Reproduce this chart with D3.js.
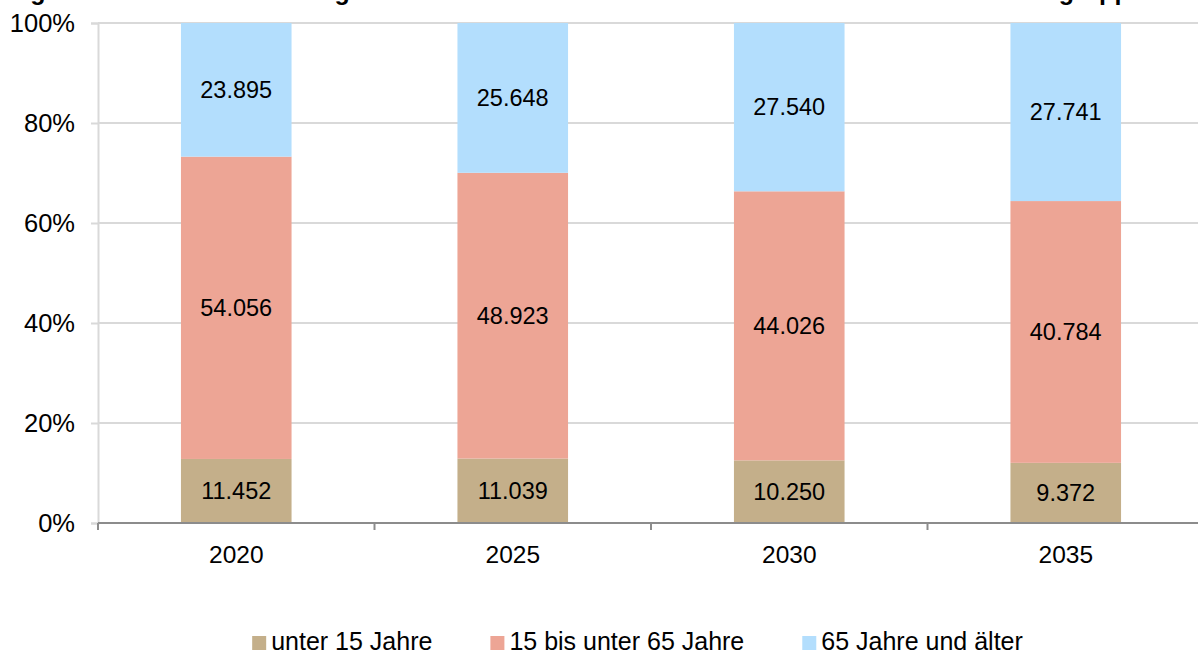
<!DOCTYPE html>
<html>
<head>
<meta charset="utf-8">
<script src="https://cdn.jsdelivr.net/npm/d3@7"></script>
<style>
  html, body { margin: 0; padding: 0; background: #fff; }
  svg { display: block; font-family: "Liberation Sans", Arial, sans-serif; }
</style>
</head>
<body>
<svg id="chart" width="1198" height="657"></svg>
<script>
// data (Einwohner, absolute Werte in Tsd.)
const years = ['2020', '2025', '2030', '2035'];
const unter15 = [11452, 11039, 10250, 9372];
const mittel = [54056, 48923, 44026, 40784];
const ab65 = [23895, 25648, 27540, 27741];
const seriesNames = ['unter 15 Jahre', '15 bis unter 65 Jahre', '65 Jahre und älter'];
const yTicks = [0, 0.2, 0.4, 0.6, 0.8, 1];
const titleText = 'Abbildung 1: Erwartete Entwicklung der Einwohnerzahl in den Jahren 2020 bis 2035 nach Altersgruppen';

const colors = ['#c4af8a', '#eda595', '#b3defd'];

const svg = d3.select('#chart');
const W = 1198;
const margin = { left: 98, top: 23, bottom: 523 };

const de = d3.formatLocale({ decimal: ',', thousands: '.', grouping: [3], currency: ['', ' €'] });
const fmt = de.format(',d');

// build rows for stacking
const rows = years.map(function (y, i) {
  return { year: y, s0: unter15[i], s1: mittel[i], s2: ab65[i] };
});
const keys = ['s0', 's1', 's2'];
const stacked = d3.stack().keys(keys).offset(d3.stackOffsetExpand)(rows);

const x = d3.scaleBand()
  .domain(years)
  .range([margin.left, 1204])
  .paddingInner(0.6)
  .paddingOuter(0.3);

const y = d3.scaleLinear()
  .domain([0, 1])
  .range([margin.bottom, margin.top]);

// title (mostly cut off at top, as in source)
svg.append('text')
  .attr('x', -78)
  .attr('y', 0)
  .attr('font-size', 25)
  .attr('font-weight', 'bold')
  .attr('fill', '#000')
  .text(titleText);

// gridlines
svg.append('g')
  .selectAll('line')
  .data(yTicks)
  .enter().append('line')
  .attr('x1', margin.left)
  .attr('x2', W)
  .attr('y1', function (d) { return y(d); })
  .attr('y2', function (d) { return y(d); })
  .attr('stroke', '#d9d9d9')
  .attr('stroke-width', 2);

// y axis
const yAxis = svg.append('g')
  .attr('transform', 'translate(' + margin.left + ',0)')
  .call(d3.axisLeft(y).tickValues(yTicks).tickFormat(d3.format('.0%')).tickSize(7).tickPadding(16));
yAxis.select('.domain').attr('stroke', '#d9d9d9').attr('stroke-width', 2);
yAxis.selectAll('.tick line').attr('stroke', '#d9d9d9').attr('stroke-width', 2);
yAxis.selectAll('.tick text')
  .attr('font-size', 25.5)
  .attr('font-family', '"Liberation Sans", Arial, sans-serif')
  .attr('fill', '#000');

// bars
const layer = svg.append('g')
  .selectAll('g')
  .data(stacked)
  .enter().append('g')
  .attr('fill', function (d, i) { return colors[i]; });

layer.selectAll('rect')
  .data(function (d) { return d; })
  .enter().append('rect')
  .attr('x', function (d) { return x(d.data.year); })
  .attr('y', function (d) { return y(d[1]); })
  .attr('width', x.bandwidth())
  .attr('height', function (d) { return y(d[0]) - y(d[1]); });

// value labels
stacked.forEach(function (s) {
  svg.append('g')
    .selectAll('text')
    .data(s)
    .enter().append('text')
    .attr('x', function (d) { return x(d.data.year) + x.bandwidth() / 2; })
    .attr('y', function (d) { return (y(d[0]) + y(d[1])) / 2; })
    .attr('text-anchor', 'middle')
    .attr('dominant-baseline', 'central')
    .attr('font-size', 23.5)
    .attr('fill', '#000')
    .text(function (d) { return fmt(d.data[s.key]); });
});

// x axis
const xAxis = svg.append('g')
  .attr('transform', 'translate(0,' + margin.bottom + ')')
  .call(d3.axisBottom(x).tickSize(0).tickPadding(23));
xAxis.select('.domain').remove();
xAxis.selectAll('.tick text')
  .attr('font-size', 24.5)
  .attr('font-family', '"Liberation Sans", Arial, sans-serif')
  .attr('fill', '#000');

svg.append('line')
  .attr('x1', margin.left)
  .attr('x2', W)
  .attr('y1', margin.bottom)
  .attr('y2', margin.bottom)
  .attr('stroke', '#8c8c8c')
  .attr('stroke-width', 2);

// boundary ticks between categories
const bounds = d3.range(years.length + 1).map(function (i) {
  return x.range()[0] + i * x.step();
});
svg.append('g')
  .selectAll('line')
  .data(bounds)
  .enter().append('line')
  .attr('x1', function (d) { return d; })
  .attr('x2', function (d) { return d; })
  .attr('y1', margin.bottom)
  .attr('y2', margin.bottom + 7)
  .attr('stroke', '#8c8c8c')
  .attr('stroke-width', 2);

// legend
const legend = svg.append('g');
const items = legend.selectAll('g')
  .data(seriesNames)
  .enter().append('g');
items.append('rect')
  .attr('y', 636)
  .attr('width', 14)
  .attr('height', 14)
  .attr('fill', function (d, i) { return colors[i]; });
items.append('text')
  .attr('x', 19)
  .attr('y', 650)
  .attr('font-size', 25)
  .attr('fill', '#000')
  .text(function (d) { return d; });

let cx = 0;
const gap = 58;
items.each(function () {
  const g = d3.select(this);
  const w = 19 + g.select('text').node().getComputedTextLength();
  g.attr('transform', 'translate(' + cx + ',0)');
  cx += w + gap;
});
const totalW = cx - gap;
legend.attr('transform', 'translate(' + (637.5 - totalW / 2) + ',0)');
</script>
</body>
</html>
